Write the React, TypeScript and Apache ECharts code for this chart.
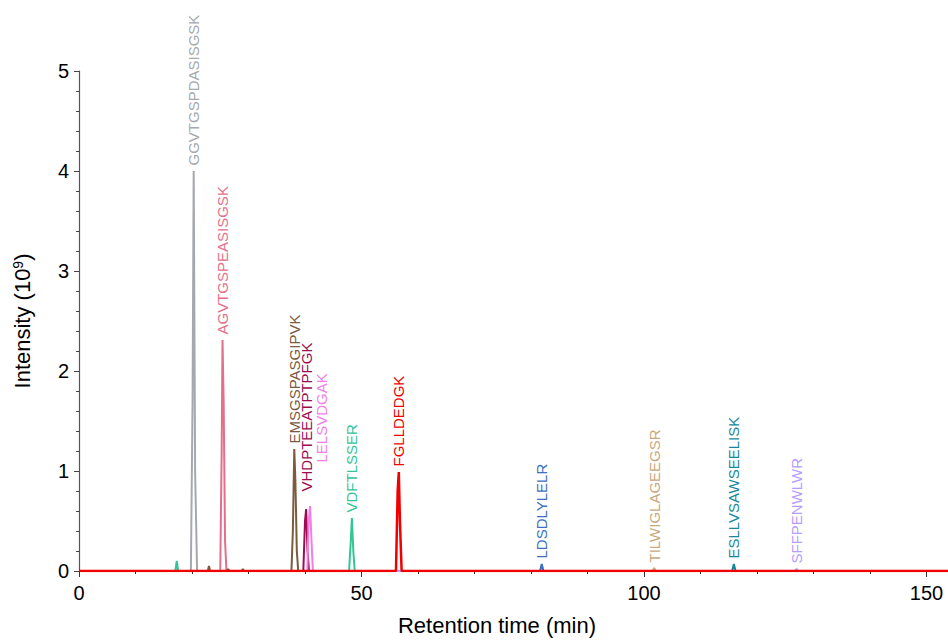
import React, { useEffect, useRef } from "react";
import * as echarts from "echarts";

// Retention time (min) / intensity (10^9) points for each peptide trace
const grayName = "GGVTGSPDASISGSK";
const grayPts: number[][] = [[0, 0], [19.8, 0], [20.1, 1.7], [20.3, 4.0], [20.55, 1.0], [20.9, 0], [154, 0]];

const pinkName = "AGVTGSPEASISGSK";
const pinkPts: number[][] = [[0, 0], [25.0, 0], [25.25, 1.2], [25.4, 2.31], [25.6, 1.7], [25.85, 0.3], [26.1, 0], [154, 0]];

const brownName = "EMSGSPASGIPVK";
const brownPts: number[][] = [[0, 0], [22.8, 0], [23.0, 0.05], [23.2, 0], [26.2, 0], [26.4, 0.02], [26.6, 0], [28.8, 0], [29.0, 0.02], [29.2, 0], [37.6, 0], [37.85, 0.4], [38.1, 1.22], [38.3, 0.9], [38.55, 0.2], [38.8, 0], [154, 0]];

const darkMagName = "VHDPTEEATPTPFGK";
const darkMagPts: number[][] = [[0, 0], [39.7, 0], [40.0, 0.5], [40.2, 0.62], [40.45, 0.2], [40.7, 0], [154, 0]];

const lightMagName = "LELSVDGAK";
const lightMagPts: number[][] = [[0, 0], [40.4, 0], [40.65, 0.5], [40.9, 0.65], [41.15, 0.3], [41.4, 0], [154, 0]];

const greenName = "VDFTLSSER";
const greenPts: number[][] = [[0, 0], [17.05, 0], [17.3, 0.1], [17.55, 0], [47.8, 0], [48.1, 0.3], [48.3, 0.53], [48.55, 0.2], [48.8, 0], [154, 0]];

const blueName = "LDSDLYLELR";
const bluePts: number[][] = [[0, 0], [81.6, 0], [81.9, 0.07], [82.2, 0], [154, 0]];

const tanName = "TILWIGLAGEEGSR";
const tanPts: number[][] = [[0, 0], [101.5, 0], [101.8, 0.03], [102.1, 0], [154, 0]];

const tealName = "ESLLVSAWSEELISK";
const tealPts: number[][] = [[0, 0], [115.6, 0], [115.9, 0.07], [116.2, 0], [154, 0]];

const lavName = "SFFPENWLWR";
const lavPts: number[][] = [[0, 0], [126.7, 0], [127.0, 0.02], [127.3, 0], [154, 0]];

const redName = "FGLLDEDGK";
const redPts: number[][] = [[0, 0], [56.1, 0], [56.4, 0.8], [56.6, 0.99], [56.8, 0.5], [57.1, 0], [154, 0]];

const xTicks = [0, 50, 100, 150];

const FONT = "'Liberation Sans', Arial, sans-serif";

type Trace = { name: string; pts: number[][]; apex: number; color: string; width?: number; labelOffset?: number[] };

// labelOffset is in the rotated label frame: [along text (up), perpendicular (right)]
const traces: Trace[] = [
  { name: greenName, pts: greenPts, apex: 48.3, color: "#33c497" },
  { name: grayName, pts: grayPts, apex: 20.3, color: "#a5a8ae" },
  { name: pinkName, pts: pinkPts, apex: 25.4, color: "#e3708a" },
  { name: brownName, pts: brownPts, apex: 38.1, color: "#7b5a3e" },
  { name: darkMagName, pts: darkMagPts, apex: 40.2, color: "#9e0b50", labelOffset: [12, 0] },
  { name: lightMagName, pts: lightMagPts, apex: 40.9, color: "#f27fe6", labelOffset: [38, 11] },
  { name: blueName, pts: bluePts, apex: 81.9, color: "#3e6fc2" },
  { name: tanName, pts: tanPts, apex: 101.8, color: "#c9a87c" },
  { name: tealName, pts: tealPts, apex: 115.9, color: "#17879e" },
  { name: lavName, pts: lavPts, apex: 127.0, color: "#b69cff" },
  { name: redName, pts: redPts, apex: 56.6, color: "#f00000", width: 2.5 },
];

export default function App() {
  const ref = useRef<HTMLDivElement>(null);
  useEffect(() => {
    if (!ref.current) return;
    const chart = echarts.init(ref.current, null, { renderer: "svg" });
    const series = traces.map((t, i) => {
      const apexPt = t.pts.find((p) => p[0] === t.apex) as number[];
      return {
        type: "line",
        name: t.name,
        showSymbol: false,
        symbol: "none",
        z: 2 + i,
        lineStyle: { color: t.color, width: t.width ?? 2 },
        data: t.pts,
        markPoint: {
          symbol: "circle",
          symbolSize: 1,
          itemStyle: { color: "rgba(0,0,0,0)" },
          silent: true,
          data: [{ coord: apexPt, value: t.name }],
          label: {
            show: true,
            position: "top",
            distance: 5,
            offset: t.labelOffset ?? [0, 0],
            rotate: 90,
            align: "left",
            verticalAlign: "middle",
            formatter: t.name,
            color: t.color,
            fontSize: 15,
            fontFamily: FONT,
          },
        },
      };
    });
    chart.setOption({
      animation: false,
      grid: { left: 79, right: 0, top: 71, bottom: 63, containLabel: false },
      xAxis: {
        type: "value",
        min: 0,
        max: 153.8,
        interval: 50,
        name: "Retention time (min)",
        nameLocation: "middle",
        nameGap: 43,
        nameTextStyle: { fontSize: 22, color: "#000", fontFamily: FONT, padding: [0, 33, 0, 0] },
        axisLine: { show: true, onZero: false, lineStyle: { color: "#000", width: 1.2 } },
        axisTick: { show: true, length: 6, lineStyle: { color: "#333" } },
        minorTick: { show: true, splitNumber: 5, length: 3, lineStyle: { color: "#333" } },
        splitLine: { show: false },
        axisLabel: {
          fontSize: 20,
          color: "#000",
          fontFamily: FONT,
          margin: 12,
          showMaxLabel: false,
          formatter: (v: number) => (xTicks.includes(v) ? String(v) : ""),
        },
      },
      yAxis: {
        type: "value",
        min: 0,
        max: 5,
        interval: 1,
        name: "Intensity (10{sup|9})",
        nameLocation: "middle",
        nameGap: 46,
        nameTextStyle: {
          fontSize: 22,
          color: "#000",
          fontFamily: FONT,
          rich: {
            sup: { fontSize: 14, fontFamily: FONT, color: "#000", verticalAlign: "top", padding: [0, 0, 8, 0] },
          },
        },
        axisLine: { show: true, lineStyle: { color: "#555", width: 1.2 } },
        axisTick: { show: true, length: 5, lineStyle: { color: "#444" } },
        minorTick: { show: true, splitNumber: 5, length: 3, lineStyle: { color: "#444" } },
        splitLine: { show: false },
        axisLabel: { fontSize: 20, color: "#000", fontFamily: FONT, margin: 10 },
      },
      series,
    });
    return () => chart.dispose();
  }, []);
  return <div ref={ref} style={{ width: 948, height: 641, position: "absolute", left: 0, top: 0 }} />;
}
